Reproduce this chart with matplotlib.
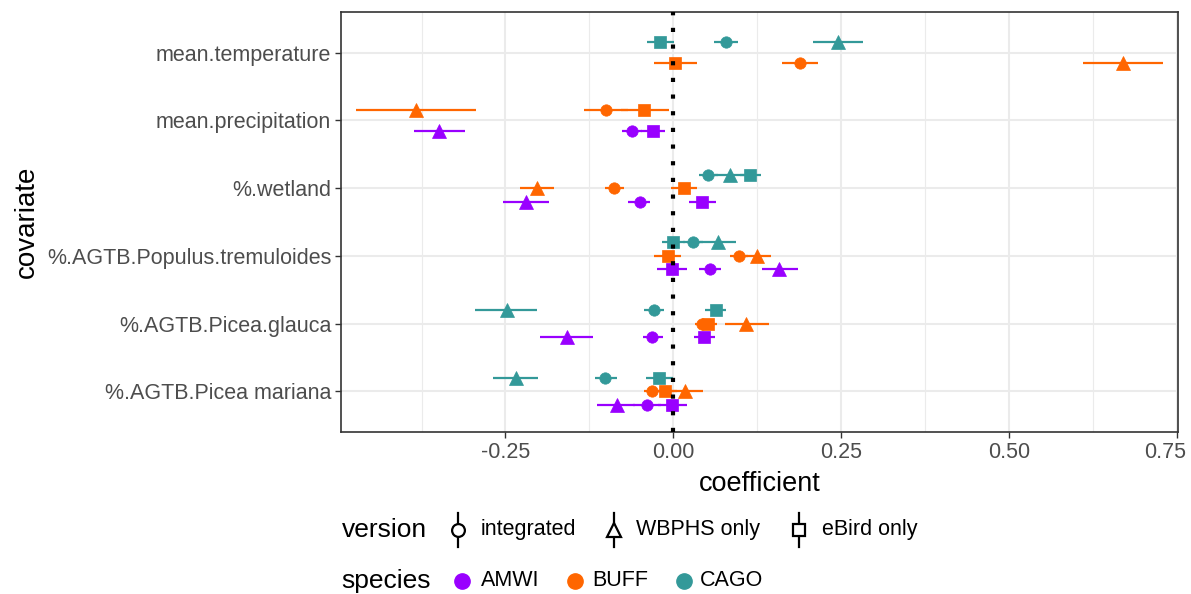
import numpy as np
import matplotlib
matplotlib.use("Agg")
import matplotlib.pyplot as plt
import matplotlib.transforms as mtransforms

plt.rcParams['font.family'] = ['Liberation Sans', 'DejaVu Sans']

nan = np.nan
covariates = ["mean.temperature", "mean.precipitation", "%.wetland",
              "%.AGTB.Populus.tremuloides", "%.AGTB.Picea.glauca",
              "%.AGTB.Picea mariana"]
species = ["AMWI", "BUFF", "CAGO"]
versions = ["integrated", "WBPHS only", "eBird only"]
xtick_vals = [-0.25, 0, 0.25, 0.5, 0.75]
xtick_labels = ["-0.25", "0.00", "0.25", "0.50", "0.75"]

# AMWI
amwi_int = [nan, -0.061, -0.050, 0.055, -0.031, -0.039]
amwi_int_lo = [nan, -0.077, -0.067, 0.039, -0.045, -0.060]
amwi_int_hi = [nan, -0.046, -0.034, 0.071, -0.015, -0.018]
amwi_wb = [nan, -0.349, -0.219, 0.158, -0.158, -0.084]
amwi_wb_lo = [nan, -0.386, -0.254, 0.132, -0.198, -0.113]
amwi_wb_hi = [nan, -0.310, -0.185, 0.186, -0.119, -0.057]
amwi_eb = [nan, -0.030, 0.043, -0.002, 0.046, -0.002]
amwi_eb_lo = [nan, -0.048, 0.023, -0.024, 0.031, -0.022]
amwi_eb_hi = [nan, -0.012, 0.064, 0.020, 0.062, 0.020]

# BUFF
buff_int = [0.189, -0.100, -0.088, 0.098, 0.043, -0.031]
buff_int_lo = [0.162, -0.133, -0.102, 0.084, 0.032, -0.044]
buff_int_hi = [0.216, -0.068, -0.073, 0.112, 0.056, -0.017]
buff_wb = [0.670, -0.384, -0.203, 0.125, 0.109, 0.018]
buff_wb_lo = [0.610, -0.473, -0.228, 0.105, 0.077, -0.008]
buff_wb_hi = [0.730, -0.294, -0.178, 0.146, 0.143, 0.044]
buff_eb = [0.002, -0.044, 0.016, -0.008, 0.052, -0.013]
buff_eb_lo = [-0.029, -0.078, -0.004, -0.028, 0.036, -0.030]
buff_eb_hi = [0.035, -0.007, 0.036, 0.011, 0.065, 0.005]

# CAGO
cago_int = [0.078, nan, 0.052, 0.030, -0.029, -0.101]
cago_int_lo = [0.061, nan, 0.038, 0.015, -0.044, -0.117]
cago_int_hi = [0.096, nan, 0.066, 0.045, -0.014, -0.084]
cago_wb = [0.246, nan, 0.084, 0.066, -0.248, -0.234]
cago_wb_lo = [0.208, nan, 0.062, 0.040, -0.295, -0.269]
cago_wb_hi = [0.283, nan, 0.106, 0.094, -0.203, -0.201]
cago_eb = [-0.019, nan, 0.115, 0.000, 0.063, -0.021]
cago_eb_lo = [-0.039, nan, 0.100, -0.017, 0.048, -0.041]
cago_eb_hi = [0.001, nan, 0.130, 0.017, 0.079, 0.000]

data = {
    "AMWI": [(amwi_int, amwi_int_lo, amwi_int_hi),
             (amwi_wb, amwi_wb_lo, amwi_wb_hi),
             (amwi_eb, amwi_eb_lo, amwi_eb_hi)],
    "BUFF": [(buff_int, buff_int_lo, buff_int_hi),
             (buff_wb, buff_wb_lo, buff_wb_hi),
             (buff_eb, buff_eb_lo, buff_eb_hi)],
    "CAGO": [(cago_int, cago_int_lo, cago_int_hi),
             (cago_wb, cago_wb_lo, cago_wb_hi),
             (cago_eb, cago_eb_lo, cago_eb_hi)],
}

colors = {"AMWI": "#9900FF", "BUFF": "#FF6600", "CAGO": "#339999"}
markers = ["o", "^", "s"]
msizes = [8.2, 9.5, 8.0]

W, H = 1191, 594
fig = plt.figure(figsize=(W / 100, H / 100), dpi=100)
L, R, T, B = 341, 1178, 12, 432
ax = fig.add_axes([L / W, 1 - B / H, (R - L) / W, (B - T) / H])

ncat = len(covariates)
ybase = {c: ncat - i for i, c in enumerate(covariates)}
dodge_w = 0.6

for ci, cov in enumerate(covariates):
    present = [s for s in species
               if any(not np.isnan(data[s][v][0][ci]) for v in range(3))]
    n = len(present)
    for k, s in enumerate(present):
        off = -dodge_w / 2 + dodge_w / n * (k + 0.5)
        y = ybase[cov] + off
        for v in range(3):
            est, lo, hi = data[s][v]
            if np.isnan(est[ci]):
                continue
            ax.plot([lo[ci], hi[ci]], [y, y], color=colors[s], lw=1.6,
                    solid_capstyle='butt', zorder=3)
            ax.plot([est[ci]], [y], marker=markers[v], ms=msizes[v],
                    color=colors[s], mec=colors[s], mew=0.5, ls='none',
                    zorder=4)

ax.axvline(0, color='black', lw=3, ls=(0, (1, 3)), zorder=6)

ax.set_xlim(-0.495, 0.752)
ax.set_ylim(0.4, ncat + 0.6)
ax.set_yticks([ybase[c] for c in covariates])
ax.set_yticklabels(covariates)
ax.set_xticks(xtick_vals)
ax.set_xticklabels(xtick_labels)
ax.set_xticks([-0.375, -0.125, 0.125, 0.375, 0.625], minor=True)
ax.grid(True, which='major', color='#EBEBEB', lw=1.5, zorder=0)
ax.grid(True, which='minor', axis='x', color='#EBEBEB', lw=0.8, zorder=0)
ax.set_axisbelow(True)
ax.tick_params(axis='both', which='major', length=4, width=1, color='#333333',
               labelsize=15.5, labelcolor='#4D4D4D', pad=3)
ax.tick_params(axis='x', which='minor', length=0)
for sp in ax.spines.values():
    sp.set_color('#333333')
    sp.set_linewidth(1.2)
ax.set_xlabel("coefficient", fontsize=19.5, labelpad=6)
ax.set_ylabel("covariate", fontsize=20, labelpad=5)

# shift the last x tick label left so it stays inside the figure (as in reference)
last = ax.get_xticklabels()[-1]
last.set_transform(last.get_transform() +
                   mtransforms.ScaledTranslation(-11.5 / 100, 0, fig.dpi_scale_trans))

# Legends drawn in pixel coordinates
lax = fig.add_axes([0, 0, 1, 1], zorder=10)
lax.set_xlim(0, W)
lax.set_ylim(H, 0)
lax.axis('off')

yv = 530
lax.text(341.7, yv, "version", fontsize=19, va='center', ha='left')
vkeys_x = [458, 613.5, 799]
vtext_x = [480.6, 636, 821.5]
for i, v in enumerate(versions):
    lax.plot([vkeys_x[i], vkeys_x[i]], [yv - 17, yv + 17], color='black', lw=1.6)
    lax.plot([vkeys_x[i]], [yv], marker=markers[i], ms=msizes[i] + 1,
             mfc='white', mec='black', mew=1.6, ls='none')
    lax.text(vtext_x[i], yv, v, fontsize=15.5, va='center', ha='left')

ys = 581
lax.text(341.7, ys, "species", fontsize=19, va='center', ha='left')
skeys_x = [462, 575, 684]
stext_x = [480.6, 592, 700]
for i, s in enumerate(species):
    lax.plot([skeys_x[i]], [ys], marker='o', ms=11, color=colors[s], ls='none')
    lax.text(stext_x[i], ys, s, fontsize=15.5, va='center', ha='left')

fig.savefig("out.png", dpi=100)
